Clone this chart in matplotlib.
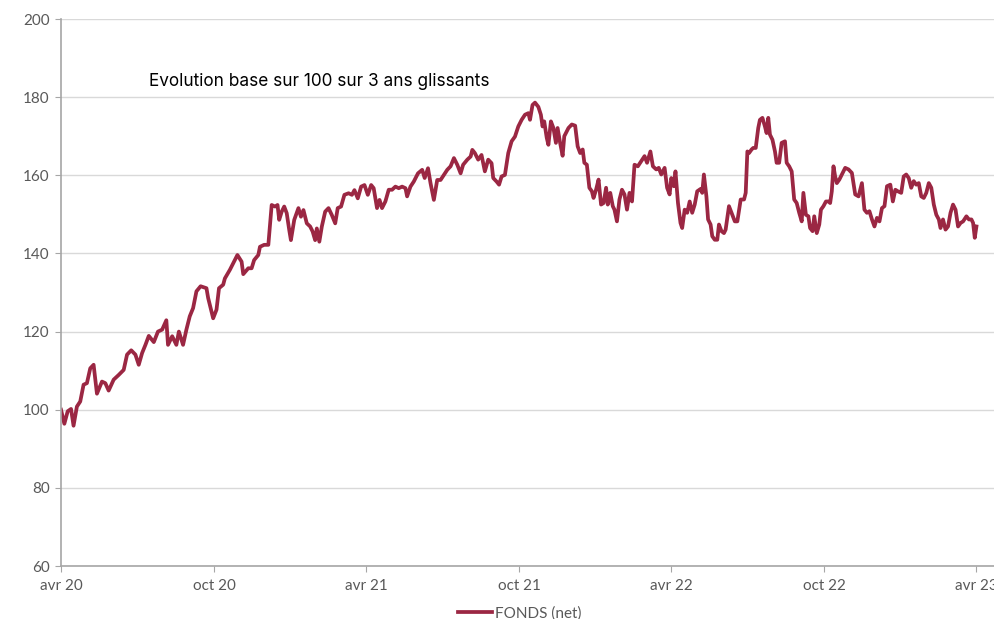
import matplotlib
matplotlib.use("Agg")
import matplotlib.pyplot as plt
import numpy as np
import pandas as pd

# days since 2020-04-01 and base-100 fund value
days = [0, 4, 8, 12, 15, 19, 23, 27, 31, 35, 39, 43, 49, 53, 57, 63, 69, 75, 79, 84,
        89, 93, 97, 101, 105, 111, 116, 121, 126, 128, 133, 138, 141, 146, 150, 154, 158, 162, 167, 174,
        176, 182, 186, 189, 194, 196, 202, 206, 211, 216, 218, 224, 228, 231, 236, 238, 243, 248, 252, 256,
        259, 261, 264, 267, 270, 273, 275, 279, 284, 287, 290, 294, 298, 301, 304, 306, 309, 312, 316, 320,
        324, 328, 331, 335, 339, 344, 348, 351, 355, 359, 363, 367, 371, 374, 378, 381, 384, 388, 392, 396,
        400, 404, 408, 412, 414, 418, 422, 427, 432, 435, 439, 442, 446, 450, 454, 458, 462, 466, 470, 474,
        478, 481, 486, 490, 492, 495, 499, 503, 507, 511, 515, 517, 521, 524, 527, 531, 535, 539, 543, 547,
        551, 555, 559, 561, 564, 567, 571, 574, 576, 578, 581, 583, 586, 589, 592, 594, 597, 600, 602, 607,
        611, 615, 618, 621, 624, 626, 629, 632, 635, 637, 640, 643, 646, 649, 652, 654, 657, 660, 662, 665,
        668, 671, 674, 677, 680, 683, 686, 690, 694, 698, 701, 705, 708, 712, 715, 718, 722, 725, 728, 730,
        733, 735, 738, 741, 743, 746, 749, 752, 755, 758, 761, 765, 767, 769, 772, 774, 777, 779, 782, 785,
        787, 790, 793, 795, 799, 802, 806, 809, 813, 817, 819, 821, 823, 826, 828, 831, 834, 836, 839, 842,
        844, 846, 848, 851, 854, 856, 859, 862, 866, 868, 871, 874, 877, 880, 883, 886, 888, 891, 894, 896,
        899, 901, 904, 907, 909, 912, 915, 918, 920, 922, 924, 926, 928, 931, 934, 938, 942, 946, 950, 954,
        958, 961, 964, 967, 970, 973, 976, 979, 982, 985, 988, 992, 995, 998, 1001, 1005, 1008, 1011, 1014, 1017,
        1020, 1023, 1026, 1029, 1032, 1035, 1038, 1041, 1044, 1047, 1050, 1052, 1055, 1058, 1061, 1064, 1067, 1070, 1073, 1076,
        1079, 1083, 1086, 1089, 1091, 1093, 1095]
fonds = [100.0, 96.4, 99.6, 100.2, 95.9, 100.8, 102.1, 106.4, 106.8, 110.6, 111.5, 104.1, 107.2, 106.8, 104.9, 107.7, 108.9, 110.2, 114.1, 115.2,
         114.1, 111.5, 114.5, 116.6, 118.9, 117.3, 120.0, 120.5, 122.9, 116.6, 118.8, 116.6, 120.0, 116.6, 120.5, 123.9, 126.0, 130.3, 131.6, 131.1,
         128.6, 123.4, 125.6, 131.1, 132.0, 133.6, 135.8, 137.5, 139.6, 137.9, 134.7, 136.2, 136.2, 138.3, 139.6, 141.7, 142.2, 142.2, 152.4, 152.0,
         152.4, 148.6, 150.7, 152.0, 150.3, 146.0, 143.4, 148.6, 151.6, 149.4, 151.1, 147.7, 146.9, 145.6, 143.4, 146.4, 143.0, 146.9, 150.7, 151.6,
         149.8, 147.7, 151.6, 152.0, 155.0, 155.4, 155.0, 156.2, 154.1, 157.1, 157.5, 155.0, 157.5, 156.7, 151.6, 153.7, 151.6, 153.3, 156.3, 156.3,
         157.1, 156.7, 157.1, 156.7, 154.6, 157.1, 158.4, 160.5, 161.4, 159.3, 161.8, 158.0, 153.7, 158.8, 158.8, 160.1, 161.4, 162.3, 164.4, 162.7,
         160.5, 162.7, 164.0, 164.8, 166.5, 165.7, 164.0, 165.2, 161.0, 164.0, 163.1, 159.3, 158.4, 157.6, 159.7, 160.1, 165.7, 168.7, 169.9, 172.5,
         174.2, 175.5, 175.9, 174.2, 178.0, 178.6, 177.5, 175.5, 172.5, 173.8, 169.6, 167.8, 173.8, 172.1, 168.3, 172.1, 168.3, 165.0, 170.0, 172.1,
         173.0, 172.7, 167.4, 165.7, 166.6, 163.2, 162.7, 156.8, 155.9, 154.2, 156.3, 158.9, 152.5, 152.9, 156.8, 152.5, 155.5, 152.1, 151.2, 148.2,
         153.8, 156.3, 155.1, 151.2, 155.5, 153.3, 162.7, 162.3, 163.6, 164.9, 163.2, 166.1, 162.3, 161.5, 161.9, 160.2, 161.9, 156.8, 155.1, 159.3,
         157.2, 161.0, 152.9, 147.8, 146.5, 151.2, 150.4, 153.3, 150.4, 152.5, 155.9, 156.5, 155.5, 160.2, 154.6, 148.7, 147.4, 144.4, 143.5, 143.5,
         147.4, 145.7, 145.2, 146.1, 152.1, 150.4, 148.2, 148.2, 153.8, 153.8, 155.5, 166.1, 165.7, 166.6, 167.0, 167.0, 172.1, 174.2, 174.7, 172.5,
         170.8, 174.7, 170.4, 169.1, 166.1, 163.2, 163.2, 168.3, 168.7, 163.2, 162.3, 161.0, 153.8, 152.9, 150.4, 148.2, 155.5, 149.9, 149.5, 146.5,
         145.7, 149.5, 145.2, 147.4, 151.2, 152.1, 153.3, 153.3, 152.9, 155.9, 162.3, 159.7, 158.0, 158.9, 160.2, 161.9, 161.5, 160.6, 155.1, 154.6,
         158.0, 151.2, 150.4, 150.8, 148.7, 146.9, 149.1, 148.2, 151.6, 152.1, 157.2, 157.6, 153.3, 156.3, 155.9, 155.5, 159.7, 160.2, 159.3, 156.8,
         158.5, 157.6, 158.0, 154.6, 154.2, 155.5, 158.0, 156.8, 152.5, 149.9, 148.7, 146.5, 148.7, 146.1, 146.9, 150.4, 152.5, 151.2, 146.9, 147.8,
         148.2, 149.5, 148.7, 148.7, 147.8, 144.0, 146.9]

tick_dates = ["2020-04-01", "2020-10-01", "2021-04-01", "2021-10-01", "2022-04-01", "2022-10-01", "2023-04-01"]
tick_labels = ["avr 20", "oct 20", "avr 21", "oct 21", "avr 22", "oct 22", "avr 23"]

dates = pd.Timestamp("2020-04-01") + pd.to_timedelta(days, unit="D")

color = "#9b2743"
grid_c = "#d9d9d9"
txt_c = "#595959"

plt.rcParams["font.family"] = ["Lato", "DejaVu Sans"]

fig = plt.figure(figsize=(9.94, 6.19), dpi=100)
ax = fig.add_axes([61 / 994, 53 / 619, 933 / 994, 547 / 619])

ax.plot(dates, fonds, color=color, lw=2.7, label="FONDS (net)", solid_joinstyle="round")

ax.set_ylim(60, 200)
ax.set_yticks(np.arange(60, 201, 20))
ax.set_xlim(pd.Timestamp("2020-04-01"), pd.Timestamp("2023-04-22"))
ax.set_xticks(pd.to_datetime(tick_dates))
ax.set_xticklabels(tick_labels)

ax.grid(axis="y", color=grid_c, lw=1)
ax.set_axisbelow(True)
for s in ["top", "right"]:
    ax.spines[s].set_visible(False)
for s in ["left", "bottom"]:
    ax.spines[s].set_color("#a6a6a6")
    ax.spines[s].set_linewidth(1.2)
ax.tick_params(axis="both", colors="#a6a6a6", labelcolor=txt_c, labelsize=11, length=4)
ax.tick_params(axis="x", pad=5)
ax.tick_params(axis="y", pad=4)

ax.text(0.094, 0.886, "Evolution base sur 100 sur 3 ans glissants", transform=ax.transAxes,
        fontsize=12.4, color="black", va="center", ha="left", family=["Inter", "DejaVu Sans"])

fig.legend(loc="lower center", bbox_to_anchor=(0.523, -0.025), frameon=False, fontsize=11,
           handlelength=2.2, handletextpad=0.2, labelcolor=txt_c)

fig.savefig("out.png", dpi=100)
